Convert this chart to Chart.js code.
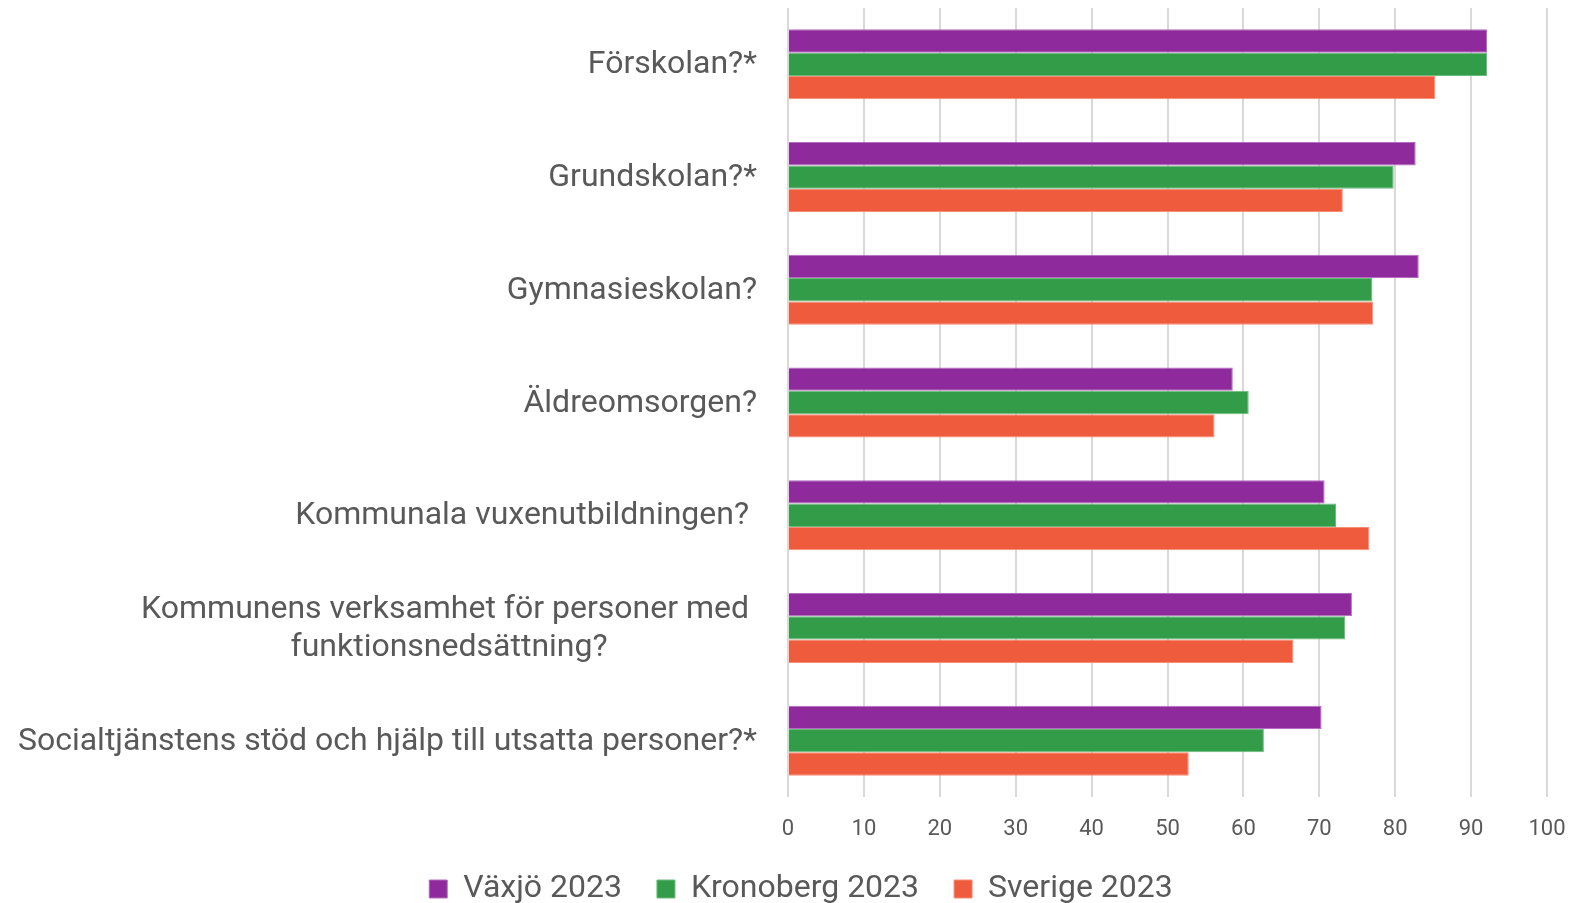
<!DOCTYPE html>
<html>
<head>
<meta charset="utf-8">
<script src="https://cdn.jsdelivr.net/npm/chart.js@4.4.1/dist/chart.umd.min.js"></script>
<style>
  html, body { margin: 0; padding: 0; background: #ffffff; }
  #wrap { width: 1572px; height: 903px; position: relative; }
</style>
</head>
<body>
<div id="wrap"><canvas id="c"></canvas></div>
<script>
const categories = [
  'Förskolan?*',
  'Grundskolan?*',
  'Gymnasieskolan?',
  'Äldreomsorgen?',
  'Kommunala vuxenutbildningen? ',
  ['Kommunens verksamhet för personer med ', 'funktionsnedsättning?'],
  'Socialtjänstens stöd och hjälp till utsatta personer?*'
];
const seriesNames = ['Växjö 2023', 'Kronoberg 2023', 'Sverige 2023'];
const vaxjo     = [92.1, 82.7, 83.1, 58.6, 70.7, 74.3, 70.3];
const kronoberg = [92.1, 79.8, 77.0, 60.7, 72.2, 73.4, 62.7];
const sverige   = [85.3, 73.1, 77.1, 56.2, 76.6, 66.6, 52.8];
const xTicks = [0, 10, 20, 30, 40, 50, 60, 70, 80, 90, 100];

const TEXT = '#595959';
const FONT = 'Roboto';

const categoryLabels = {
  id: 'categoryLabels',
  afterDraw(chart) {
    const ys = chart.scales.y;
    const ctx = chart.ctx;
    ctx.save();
    ctx.font = '32px ' + FONT;
    ctx.fillStyle = TEXT;
    ctx.textBaseline = 'middle';
    const xR = 757;
    const lh = 38;
    categories.forEach((lab, i) => {
      const y = ys.getPixelForValue(i) + 1;
      const lines = Array.isArray(lab) ? lab : [lab];
      if (lines.length === 1) {
        ctx.textAlign = 'right';
        ctx.fillText(lines[0], xR, y);
      } else {
        const widest = Math.max(...lines.map(l => ctx.measureText(l).width));
        const cx = xR - widest / 2;
        ctx.textAlign = 'center';
        const y0 = y - (lines.length - 1) * lh / 2;
        lines.forEach((l, k) => ctx.fillText(l, cx, y0 + k * lh));
      }
    });
    ctx.restore();
  }
};

new Chart(document.getElementById('c'), {
  type: 'bar',
  data: {
    labels: categories,
    datasets: [
      { label: seriesNames[0], data: vaxjo, backgroundColor: '#8e2a9b', borderColor: '#b46cc0', borderWidth: 1 },
      { label: seriesNames[1], data: kronoberg, backgroundColor: '#339c48', borderColor: '#6cbb7c', borderWidth: 1 },
      { label: seriesNames[2], data: sverige, backgroundColor: '#ef5b3d', borderColor: '#f68d77', borderWidth: 1 }
    ]
  },
  plugins: [categoryLabels],
  options: {
    indexAxis: 'y',
    responsive: true,
    maintainAspectRatio: false,
    animation: false,
    datasets: { bar: { barPercentage: 1, categoryPercentage: 0.621 } },
    layout: { padding: { top: 8, left: 55, right: 25, bottom: -12 } },
    plugins: {
      tooltip: { enabled: false },
      legend: {
        position: 'bottom',
        labels: {
          font: { family: FONT, size: 32 },
          color: TEXT,
          boxWidth: 18,
          boxHeight: 18,
          padding: 35
        }
      }
    },
    scales: {
      x: {
        min: 0, max: 100,
        afterBuildTicks(scale) { scale.ticks = xTicks.map(v => ({ value: v })); },
        afterFit(scale) { scale.height = 41; scale.paddingRight = 0; },
        grid: { color: '#d9d9d9', lineWidth: 2, drawTicks: false },
        border: { display: false },
        ticks: { font: { family: FONT, size: 22 }, color: TEXT, padding: 19 }
      },
      y: {
        afterFit(scale) { scale.width = 733; },
        grid: { display: false },
        border: { display: false },
        ticks: { display: false }
      }
    }
  }
});
</script>
</body>
</html>
